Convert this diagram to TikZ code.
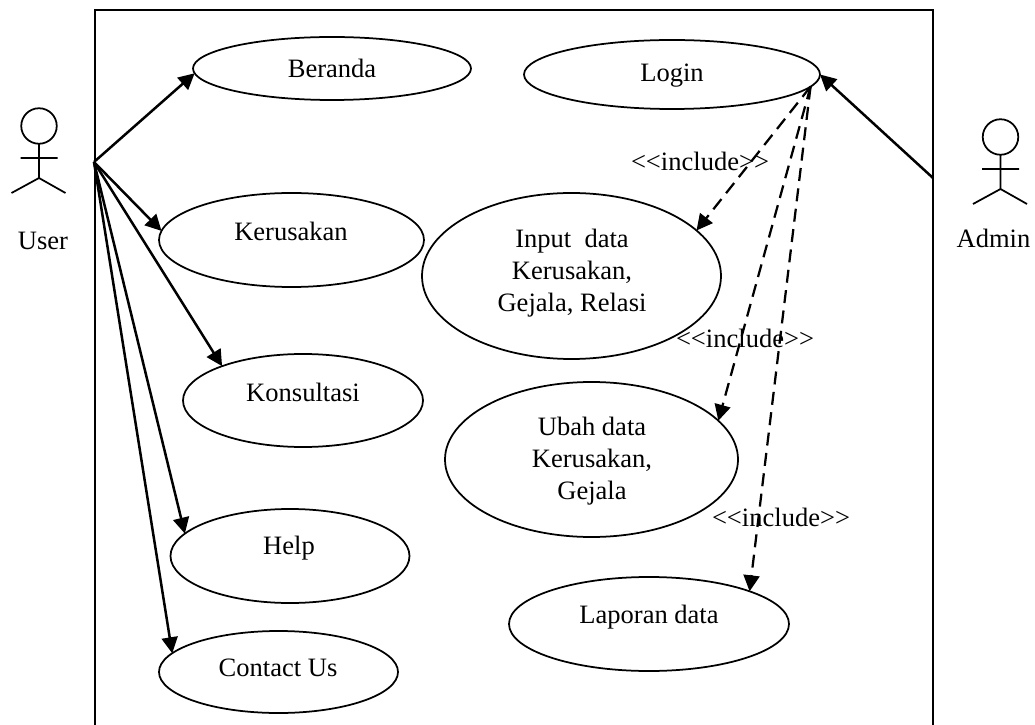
\documentclass[tikz,border=0pt]{standalone}
\usepackage{fontspec}
\setmainfont{Liberation Serif}
\usetikzlibrary{arrows.meta, calc, shapes.geometric}
\tikzset{
    usecasebox/.style={draw, ellipse, inner sep=0cm, outer sep=0cm, line width=0.035cm},
    caption/.style={inner sep=0cm, align=center, font=\fontsize{15.1}{18}\selectfont},
    assoc/.style={line width=0.05cm, -{Triangle[length=0.32cm, width=0.32cm]}},
    includes/.style={line width=0.045cm, dash pattern=on 0.26cm off 0.15cm, -{Triangle[length=0.32cm, width=0.32cm]}}
}
\newcommand{\usecase}[6]{
    \node[usecasebox, minimum width=#3cm, minimum height=#4cm] (#1) at (#2) {};
    \node[caption] (#1-t) at (#5) {#6};
}
\newcommand{\actor}[4]{
    \node[draw, circle, inner sep=0cm, outer sep=0cm, minimum size=0.71cm, line width=0.035cm] (#1) at (#2) {};
    \coordinate (#1-a) at ($(#1) + (0, -0.64)$);
    \coordinate (#1-b) at ($(#1) + (0, -1.04)$);
    \draw[line width=0.035cm]
    (#1) ++(0, -0.355) -- (#1-b)
    ($(#1-a) + (-0.37, 0)$) -- ($(#1-a) + (0.37, 0)$)
    ($(#1-b) + (-0.55, -0.3)$) -- (#1-b) -- ($(#1-b) + (0.53, -0.3)$);
    \node[caption] (#1-t) at (#3) {#4};
}
\begin{document}
\begin{tikzpicture}
    \useasboundingbox (0, 0) rectangle (20.7, -14.5);
    \coordinate (frame-l) at (1.9, -14.5);
    \coordinate (frame-r) at (18.66, -14.5);
    \coordinate (frame-t) at (18.66, -0.2);
    \coordinate (user-end) at (1.88, -3.24);
    \coordinate (admin-end) at (18.66, -3.56);
    \draw[line width=0.04cm] (frame-l) |- (frame-t) -- (frame-r);
    \actor{user}{0.78, -2.52}{0.86, -4.82}{User}
    \actor{admin}{20.01, -2.74}{19.87, -4.76}{Admin}
    \usecase{beranda}{6.64, -1.37}{5.56}{1.26}{6.64, -1.36}{Beranda}
    \usecase{login}{13.44, -1.49}{5.92}{1.38}{13.44, -1.52}{Login}
    \usecase{kerusakan}{5.83, -4.8}{5.3}{1.88}{5.82, -4.62}{Kerusakan}
    \usecase{input}{11.43, -5.52}{5.98}{3.32}{11.44, -5.46}{Input\ \ data\\Kerusakan,\\Gejala, Relasi}
    \usecase{konsultasi}{6.06, -8.01}{4.8}{1.86}{6.06, -7.84}{Konsultasi}
    \usecase{ubah}{11.83, -9.19}{5.86}{3.1}{11.84, -9.22}{Ubah data\\Kerusakan,\\Gejala}
    \usecase{help}{5.8, -11.12}{4.78}{1.88}{5.78, -10.96}{Help}
    \usecase{contact}{5.57, -13.44}{4.78}{1.64}{5.56, -13.36}{Contact Us}
    \usecase{laporan}{12.98, -12.48}{5.6}{1.88}{12.98, -12.34}{Laporan data}
    \node[caption] (inc-input) at (14, -3.22) {<{}<include>{}>};
    \node[caption] (inc-ubah) at (14.9, -6.76) {<{}<include>{}>};
    \node[caption] (inc-laporan) at (15.62, -10.34) {<{}<include>{}>};
    \draw[assoc] (user-end) -- (beranda.182.9);
    \draw[assoc] (user-end) -- (kerusakan.176.1);
    \draw[assoc] (user-end) -- (konsultasi.157.9);
    \draw[assoc] (user-end) -- (help.168.5);
    \draw[assoc] (user-end) -- (contact.170);
    \draw[assoc] (admin-end) -- (login.east);
    \draw[includes] (login.-5.3) -- (input.20.6);
    \draw[includes] (login.-5.3) -- (ubah.17.9);
    \draw[includes] (login.-5.3) -- (laporan.18.8);
\end{tikzpicture}
\end{document}
